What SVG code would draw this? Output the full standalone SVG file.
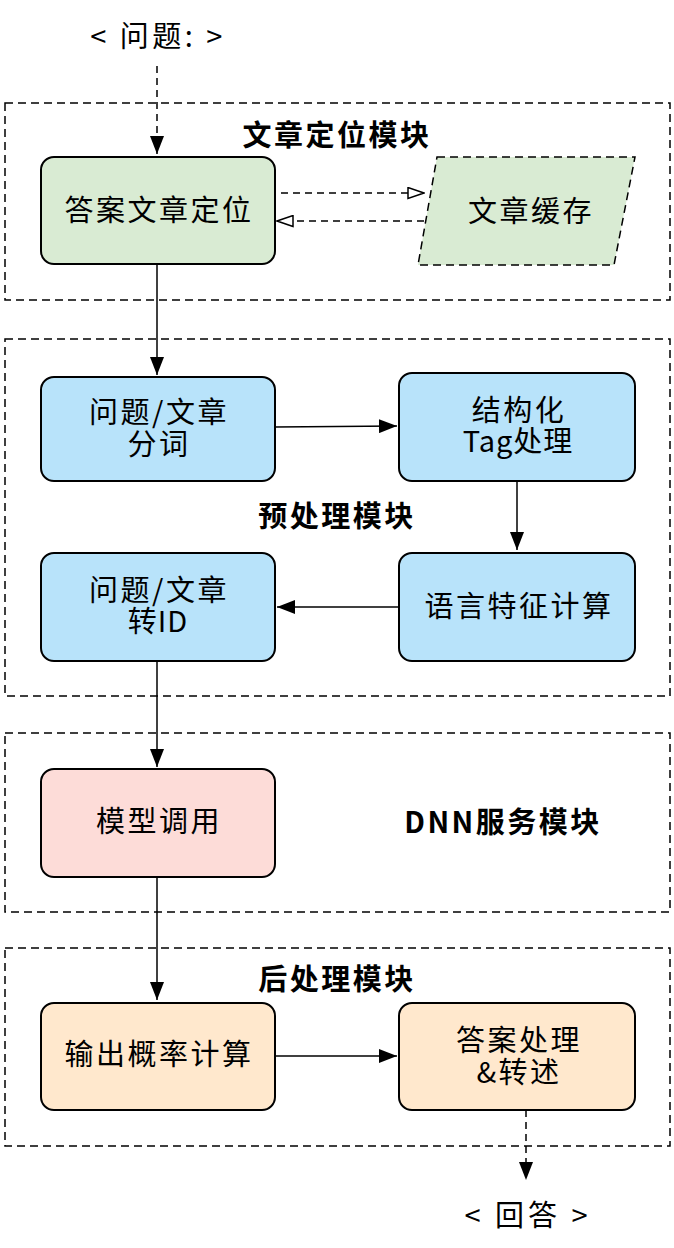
<svg xmlns="http://www.w3.org/2000/svg" width="674" height="1248" viewBox="0 0 674 1248">
<style>
.bg{fill:#ffffff}
.grp{fill:none;stroke:#000;stroke-width:1.5;stroke-dasharray:8 5}
.box{stroke:#000;stroke-width:2}
.green{fill:#d9ebd3}
.blue{fill:#b8e3fa}
.pink{fill:#fddcd8}
.orange{fill:#ffe8cd}
.t{font-family:"Noto Sans CJK SC","Noto Sans",sans-serif;font-size:29px;letter-spacing:2.5px;text-anchor:middle;fill:#000}
.b{font-weight:bold}
.ln{fill:none;stroke:#000;stroke-width:1.5}
.dash{stroke-dasharray:7 5}
</style>
<defs>
<marker id="fa" viewBox="0 0 18 14" refX="18" refY="7" markerWidth="18" markerHeight="14" markerUnits="userSpaceOnUse" orient="auto">
<path d="M0,0 L18,7 L0,14 Z" fill="#000"/>
</marker>
<marker id="oa" viewBox="0 0 18 13" refX="17" refY="6.5" markerWidth="18" markerHeight="13" markerUnits="userSpaceOnUse" orient="auto">
<path d="M1,1 L17,6.5 L1,12 Z" fill="#fff" stroke="#000" stroke-width="1.5"/>
</marker>
</defs>
<rect class="bg" x="0" y="0" width="674" height="1248"/>

<g id="group-locate">
<rect class="grp" x="5" y="103" width="665" height="197"/>
<text class="t b" x="337" y="146">文章定位模块</text>
</g>
<g id="group-preprocess">
<rect class="grp" x="5" y="339" width="665" height="357"/>
<text class="t b" x="337" y="527">预处理模块</text>
</g>
<g id="group-dnn">
<rect class="grp" x="5" y="733" width="665" height="179"/>
<text class="t b" x="503" y="833">DNN服务模块</text>
</g>
<g id="group-post">
<rect class="grp" x="5" y="948" width="665" height="198"/>
<text class="t b" x="337" y="990">后处理模块</text>
</g>

<g id="question">
<text class="t" x="158" y="47" style="letter-spacing:3.5px">&lt; 问题: &gt;</text>
</g>

<g id="node-locate">
<rect class="box green" x="41" y="157" width="234" height="107" rx="13"/>
<text class="t" x="159" y="221">答案文章定位</text>
</g>
<g id="node-cache">
<polygon class="green" points="437,157 635,157 614,265 418,265" stroke="#000" stroke-width="1.5" stroke-dasharray="8 5"/>
<text class="t" x="531" y="222">文章缓存</text>
</g>

<g id="node-seg">
<rect class="box blue" x="41" y="377" width="234" height="104" rx="13"/>
<text class="t" x="159" y="423">问题/文章<tspan x="159" dy="32">分词</tspan></text>
</g>
<g id="node-tag">
<rect class="box blue" x="399" y="373" width="236" height="108" rx="13"/>
<text class="t" x="519" y="421">结构化<tspan x="518" dy="31" style="letter-spacing:1px">Tag处理</tspan></text>
</g>
<g id="node-feat">
<rect class="box blue" x="399" y="553" width="236" height="108" rx="13"/>
<text class="t" x="519" y="617">语言特征计算</text>
</g>
<g id="node-id">
<rect class="box blue" x="41" y="553" width="234" height="108" rx="13"/>
<text class="t" x="159" y="601">问题/文章<tspan x="158" dy="31" style="letter-spacing:1px">转ID</tspan></text>
</g>

<g id="node-model">
<rect class="box pink" x="41" y="769" width="234" height="108" rx="13"/>
<text class="t" x="159" y="832">模型调用</text>
</g>

<g id="node-prob">
<rect class="box orange" x="41" y="1003" width="234" height="107" rx="13"/>
<text class="t" x="159" y="1065">输出概率计算</text>
</g>
<g id="node-answer">
<rect class="box orange" x="399" y="1003" width="236" height="107" rx="13"/>
<text class="t" x="519" y="1051">答案处理<tspan x="519" dy="32">&amp;转述</tspan></text>
</g>

<g id="answer">
<text class="t" x="528" y="1226" style="letter-spacing:4px">&lt; 回答 &gt;</text>
</g>

<g id="connectors">
<line class="ln dash" x1="157" y1="66" x2="157" y2="154" marker-end="url(#fa)"/>
<line class="ln dash" x1="281" y1="193" x2="424" y2="193" marker-end="url(#oa)"/>
<line class="ln dash" x1="424" y1="221" x2="277" y2="221" marker-end="url(#oa)"/>
<line class="ln" x1="157" y1="264" x2="157" y2="375" marker-end="url(#fa)"/>
<line class="ln" x1="275" y1="427" x2="397" y2="426" marker-end="url(#fa)"/>
<line class="ln" x1="517" y1="481" x2="517" y2="550" marker-end="url(#fa)"/>
<line class="ln" x1="399" y1="607" x2="277" y2="607" marker-end="url(#fa)"/>
<line class="ln" x1="157" y1="661" x2="157" y2="767" marker-end="url(#fa)"/>
<line class="ln" x1="157" y1="877" x2="157" y2="1000" marker-end="url(#fa)"/>
<line class="ln" x1="275" y1="1056" x2="397" y2="1056" marker-end="url(#fa)"/>
<line class="ln dash" x1="526" y1="1110" x2="526" y2="1180" marker-end="url(#fa)"/>
</g>
</svg>
